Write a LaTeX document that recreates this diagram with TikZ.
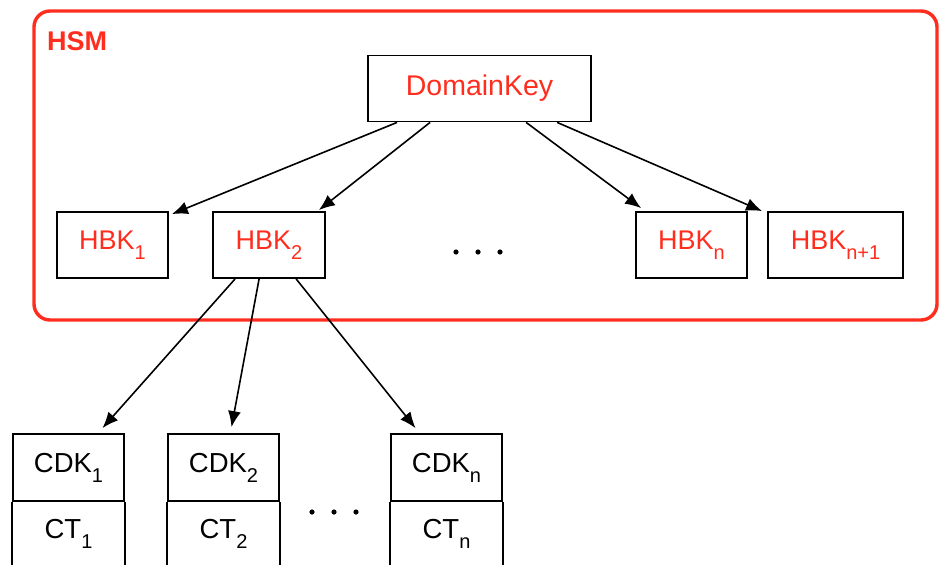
\documentclass[tikz,border=0pt]{standalone}
\usepackage{fontspec}
\setmainfont{Liberation Sans}
\usetikzlibrary{arrows.meta,calc}
\definecolor{hsmred}{RGB}{255,45,30}
\newcommand\lsub[1]{\raisebox{-10pt}{\fontsize{20}{20}\selectfont #1}}
\begin{document}
\begin{tikzpicture}[x=1pt,y=-1pt,
  keybox/.style={draw=black,line width=1.8pt,minimum height=66pt,inner sep=0pt,text=hsmred,font=\fontsize{27}{27}\selectfont},
  cdkbox/.style={draw=black,line width=1.8pt,minimum height=67pt,minimum width=111pt,inner sep=0pt,text=black,font=\fontsize{27.5}{27.5}\selectfont},
  cttext/.style={anchor=base,inner sep=0pt,font=\fontsize{27.5}{27.5}\selectfont},
  arr/.style={line width=1.6pt,-{Latex[length=16pt,width=13pt]}},
  side/.style={line width=1.8pt},
  dot/.style={fill=black,draw=none},
]
\fill[white] (0,0) rectangle (940,565);
\useasboundingbox (0,0) rectangle (940,565);
\clip (0,0) rectangle (940,565);

% HSM container
\node[draw=hsmred,line width=3.4pt,rounded corners=16pt,minimum width=903pt,minimum height=309pt,inner sep=0pt] (hsm) at (485.5,165.5) {};
\node[anchor=base west,inner sep=0pt,text=hsmred,font=\fontsize{27}{27}\selectfont\bfseries] (hsmlabel) at (47,50) {HSM};

% keys
\node[keybox,minimum width=223pt,font=\fontsize{28.5}{28.5}\selectfont] (dk) at (479.5,88.5) {DomainKey};
\node[keybox,minimum width=111pt] (h1) at (112.5,245) {HBK\lsub{1}};
\node[keybox,minimum width=112pt] (h2) at (269,245) {HBK\lsub{2}};
\node[keybox,minimum width=111pt] (hn) at (691.5,245) {HBK\lsub{n}};
\node[keybox,minimum width=135pt] (hm) at (835.5,245) {HBK\lsub{n+1}};

% dots in HSM
\fill[dot] (456,252) circle (2.6) (478,252) circle (2.6) (500,252) circle (2.6);

% CDK boxes
\node[cdkbox] (c1) at (68.5,467.5) {CDK\lsub{1}};
\node[cdkbox] (c2) at (223.5,467.5) {CDK\lsub{2}};
\node[cdkbox] (cn) at (446.5,467.5) {CDK\lsub{n}};
\node[cttext] (t1) at (68.5,538) {CT\lsub{1}};
\node[cttext] (t2) at (223.5,538) {CT\lsub{2}};
\node[cttext] (tn) at (446.5,538) {CT\lsub{n}};
\draw[side] (c1.south west) -- +(0,90) (c1.south east) -- +(0,90);
\draw[side] (c2.south west) -- +(0,90) (c2.south east) -- +(0,90);
\draw[side] (cn.south west) -- +(0,90) (cn.south east) -- +(0,90);

% dots between CT
\fill[dot] (312,512) circle (2.6) (334,512) circle (2.6) (356,512) circle (2.6);

% arrows from DomainKey
\draw[arr] ($(dk.south west)+(30,0)$) -- ($(h1.north east)+(3,3)$);
\draw[arr] ($(dk.south west)+(63,0)$) -- ($(h2.north east)+(-7,-1)$);
\draw[arr] ($(dk.south west)+(159,0)$) -- ($(hn.north west)+(6,-3)$);
\draw[arr] ($(dk.south west)+(190,0)$) -- ($(hm.north west)+(-5,0)$);

% arrows from HBK2
\draw[arr] ($(h2.south west)+(23,0)$) -- ($(c1.north)+(34,-5)$);
\draw[arr] ($(h2.south west)+(47,0)$) -- ($(c2.north)+(8,-6)$);
\draw[arr] ($(h2.south west)+(84,0)$) -- ($(cn.north)+(-31,-5)$);
\end{tikzpicture}
\end{document}
